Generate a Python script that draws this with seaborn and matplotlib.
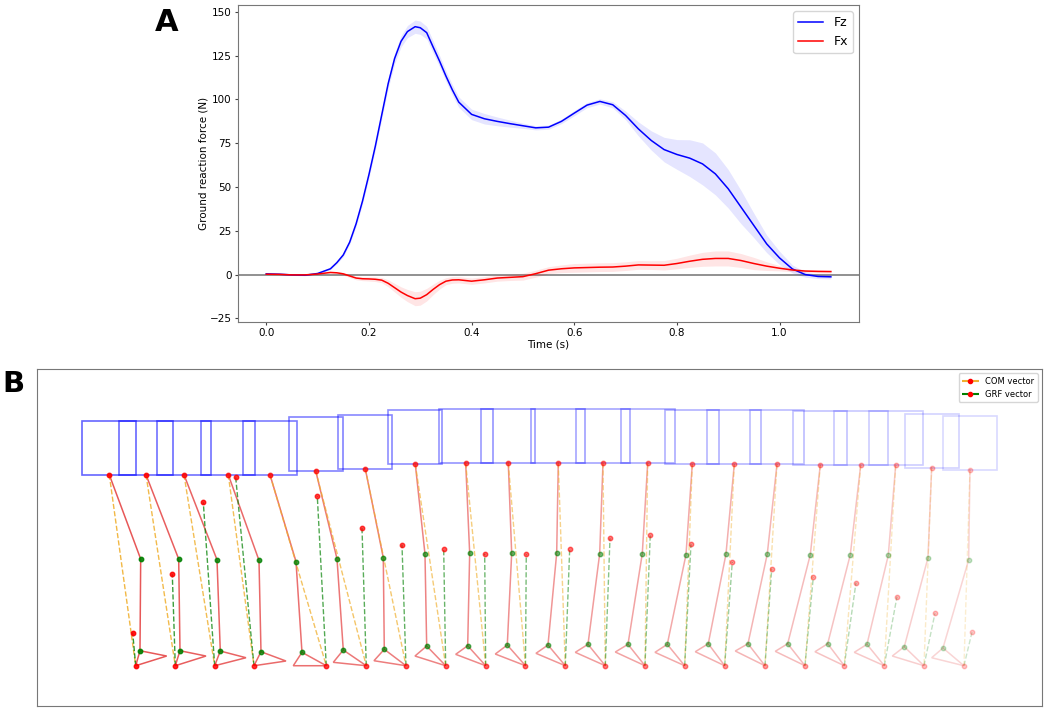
import numpy as np
import pandas as pd
import seaborn as sns
import matplotlib
matplotlib.use("Agg")
import matplotlib.pyplot as plt
from matplotlib.patches import Rectangle, Polygon
from matplotlib.lines import Line2D

# ---- panel A: mean ground reaction force and spread ----
time_s = [0.0, 0.025, 0.05, 0.075, 0.1, 0.125, 0.1375, 0.15, 0.1625, 0.175, 0.1875, 0.2,
          0.2125, 0.225, 0.2375, 0.25, 0.2625, 0.275, 0.29, 0.3, 0.3125, 0.325, 0.3375,
          0.35, 0.3625, 0.375, 0.4, 0.425, 0.45, 0.475, 0.5, 0.525, 0.55,
          0.575, 0.6, 0.625, 0.65, 0.675, 0.7, 0.725, 0.75, 0.775, 0.8, 0.825, 0.85,
          0.875, 0.9, 0.925, 0.95, 0.975, 1.0, 1.025, 1.05, 1.075, 1.1]
fz_mean = [0.4, 0.2, -0.2, -0.4, 0.6, 3.3, 6.8, 11.2, 18.5, 29.0, 42.0, 57.1,
           73.4, 91.3, 109.1, 123.4, 133.2, 138.8, 141.6, 141.0, 138.2, 130.0, 122.0,
           113.4, 105.5, 98.5, 91.5, 89.0, 87.5, 86.2, 85.0, 83.8, 84.2,
           87.5, 92.2, 96.8, 98.9, 97.0, 90.9, 83.2, 76.6, 71.4, 68.6, 66.5, 63.2,
           57.5, 49.0, 38.5, 28.0, 17.5, 9.5, 3.2, 0.0, -1.1, -1.3]
fz_sd = [0.3, 0.3, 0.3, 0.3, 0.3, 0.5, 0.7, 1.0, 1.2, 1.5, 1.8, 2.0,
         2.2, 2.5, 2.8, 3.0, 3.2, 3.5, 3.8, 3.8, 3.6, 3.5, 3.2,
         3.0, 3.0, 3.0, 3.0, 3.0, 2.5, 2.0, 1.5, 1.2, 1.2,
         1.3, 1.5, 1.5, 1.5, 1.8, 2.5, 4.0, 5.5, 7.0, 8.5, 10.5, 12.0,
         12.0, 11.0, 9.5, 7.0, 5.0, 3.8, 2.3, 1.5, 1.2, 1.2]
fx_mean = [0.2, 0.1, -0.2, -0.2, 0.3, 1.2, 1.0, 0.4, -0.8, -2.0, -2.4, -2.5,
           -2.7, -3.2, -5.0, -7.5, -10.0, -12.0, -13.8, -13.5, -11.5, -8.5, -5.8,
           -3.8, -3.1, -3.0, -3.8, -3.0, -2.0, -1.6, -1.2, 0.5, 2.5,
           3.3, 3.8, 4.0, 4.2, 4.3, 4.8, 5.5, 5.4, 5.3, 6.3, 7.6, 8.7,
           9.2, 9.2, 8.0, 6.3, 4.8, 3.6, 2.6, 2.0, 1.8, 1.7]
fx_sd = [0.3, 0.3, 0.3, 0.3, 0.3, 0.5, 0.6, 0.8, 0.9, 1.0, 1.1, 1.2,
         1.3, 1.5, 2.0, 2.5, 3.0, 3.5, 4.0, 4.0, 3.6, 3.0, 2.5,
         2.0, 1.9, 1.8, 1.8, 1.8, 1.8, 1.8, 2.0, 2.0, 2.0,
         2.2, 2.5, 2.5, 2.5, 2.5, 2.5, 2.5, 2.5, 2.7, 3.0, 3.5, 4.0,
         4.3, 4.3, 4.0, 3.5, 2.5, 1.5, 1.0, 0.8, 0.8, 0.8]

# ---- panel B: stick figure frames (image units, y grows downward) ----
hip_x = [109.3, 146.0, 184.0, 228.3, 270.0, 315.7, 365.3, 415.3, 465.7, 508.3, 558.3,
         603.0, 647.7, 692.3, 734.3, 777.0, 820.3, 860.7, 895.7, 931.7, 970.0]
hip_y = [474.7, 474.7, 474.7, 474.7, 474.7, 470.7, 468.7, 464.0, 463.0, 463.0, 463.0,
         463.0, 463.3, 464.3, 464.3, 464.3, 465.0, 465.3, 465.3, 467.7, 469.7]
knee_x = [140.7, 178.7, 217.0, 259.0, 296.0, 337.0, 383.3, 425.0, 469.7, 511.7, 556.7,
          599.7, 642.3, 686.0, 726.0, 767.3, 810.3, 850.3, 888.3, 928.0, 968.7]
knee_y = [559.0, 559.0, 559.7, 560.3, 561.5, 558.7, 557.7, 554.0, 553.3, 553.3, 553.3,
          553.7, 553.7, 554.7, 554.0, 554.0, 554.7, 554.7, 555.3, 557.7, 559.7]
ankle_x = [140.0, 180.0, 220.3, 261.0, 302.0, 343.3, 384.3, 426.7, 467.7, 507.3, 548.0,
           588.0, 628.0, 667.3, 708.3, 748.0, 787.7, 827.7, 867.0, 904.3, 943.0]
ankle_y = [650.7, 650.7, 651.0, 651.7, 652.3, 650.0, 649.3, 646.0, 645.7, 645.0, 645.0,
           644.3, 644.3, 644.3, 643.7, 643.7, 643.7, 643.7, 644.3, 646.7, 648.0]
foot_x = [166.7, 206.0, 246.0, 286.0, 293.3, 333.3, 374.0, 415.0, 455.7, 495.3, 536.0,
          575.3, 615.3, 655.0, 695.3, 735.3, 775.3, 815.0, 854.3, 892.3, 931.7]
foot_y = [656.0, 656.0, 657.7, 661.0, 665.7, 662.3, 660.7, 656.0, 654.3, 654.0, 653.3,
          652.3, 652.0, 652.3, 651.7, 651.0, 651.3, 651.7, 652.3, 656.0, 657.7]
cop_x = [135.7, 175.3, 214.7, 254.0, 326.3, 366.3, 406.0, 445.7, 485.7, 525.5, 565.3,
         605.3, 645.0, 684.7, 724.7, 765.0, 805.0, 844.3, 884.3, 924.0, 964.0]
cop_y = [665.7, 665.7, 665.7, 665.7, 665.7, 665.7, 665.7, 665.7, 665.7, 665.7, 665.7,
         665.7, 665.7, 665.7, 665.7, 665.7, 665.7, 665.7, 665.7, 665.7, 665.7]
grf_x = [132.7, 172.3, 203.3, 235.7, 317.3, 362.0, 402.0, 443.7, 484.7, 526.3, 569.7,
         610.0, 650.3, 691.0, 732.3, 771.7, 813.3, 856.0, 897.0, 935.0, 972.0]
grf_y = [632.7, 574.3, 502.3, 477.3, 496.0, 528.0, 544.7, 549.3, 553.7, 554.3, 549.3,
         538.3, 535.0, 544.3, 562.0, 569.3, 577.3, 582.7, 596.7, 613.3, 632.3]
BODY_W = 54
BODY_H = 54

COM_COLOR = "#f0b030"

fig = plt.figure(figsize=(10.45, 7.1), dpi=100)
ax_a = fig.add_axes([0.2278, 0.5465, 0.5943, 0.4465])
ax_b = fig.add_axes([0.0354, 0.0056, 0.9617, 0.4746])

# panel A
df = pd.DataFrame({"time": time_s, "Fz": fz_mean, "Fx": fx_mean})
fz_lo = np.array(fz_mean) - np.array(fz_sd)
fz_hi = np.array(fz_mean) + np.array(fz_sd)
fx_lo = np.array(fx_mean) - np.array(fx_sd)
fx_hi = np.array(fx_mean) + np.array(fx_sd)

ax_a.axhline(0, color="#888888", lw=1.3, zorder=1)
ax_a.fill_between(time_s, fz_lo, fz_hi, color="blue", alpha=0.1, lw=0, zorder=2)
sns.lineplot(data=df, x="time", y="Fz", color="blue", lw=1.1, ax=ax_a, zorder=3)
ax_a.fill_between(time_s, fx_lo, fx_hi, color="red", alpha=0.1, lw=0, zorder=2)
sns.lineplot(data=df, x="time", y="Fx", color="red", lw=1.1, ax=ax_a, zorder=3)

ax_a.set_ylim(-27.1, 154)
ax_a.set_yticks([-25, 0, 25, 50, 75, 100, 125, 150])
ax_a.set_xticks([0.0, 0.2, 0.4, 0.6, 0.8, 1.0])
ax_a.tick_params(labelsize=7.5, length=2.5, pad=2, color="#444444")
ax_a.set_xlabel("Time (s)", fontsize=7.5, labelpad=1)
ax_a.set_ylabel("Ground reaction force (N)", fontsize=7.5, labelpad=1)
for sp in ax_a.spines.values():
    sp.set_color("#777777")
ax_a.legend([ax_a.lines[1], ax_a.lines[2]], ["Fz", "Fx"], loc="upper right", fontsize=9)

# panel B
n_frames = len(hip_x)
alphas = np.linspace(1.0, 0.25, n_frames)
for i in range(n_frames):
    a = alphas[i]
    ax_b.add_patch(Rectangle((hip_x[i] - BODY_W / 2, hip_y[i] - BODY_H), BODY_W, BODY_H,
                             fill=False, ec="blue", lw=1.2, alpha=0.6 * a))
    ax_b.plot([hip_x[i], knee_x[i], ankle_x[i]], [hip_y[i], knee_y[i], ankle_y[i]],
              color="#e02020", lw=1.1, alpha=0.75 * a)
    ax_b.add_patch(Polygon([[ankle_x[i], ankle_y[i]], [foot_x[i], foot_y[i]], [cop_x[i], cop_y[i]]],
                           closed=True, fill=False, ec="#e02020", lw=1.1, alpha=0.75 * a))
    ax_b.plot([hip_x[i], cop_x[i]], [hip_y[i], cop_y[i]], ls="--", color=COM_COLOR,
              lw=1.0, alpha=0.9 * a)
    ax_b.plot([cop_x[i], grf_x[i]], [cop_y[i], grf_y[i]], ls="--", color="green",
              lw=1.0, alpha=0.8 * a)
    ax_b.plot([knee_x[i], ankle_x[i]], [knee_y[i], ankle_y[i]], ls="", marker="o",
              ms=3.2, color="green", alpha=0.9 * a)
    ax_b.plot([hip_x[i], cop_x[i], grf_x[i]], [hip_y[i], cop_y[i], grf_y[i]], ls="",
              marker="o", ms=3.2, color="red", alpha=0.9 * a)

ax_b.set_xlim(37, 1042)
ax_b.set_ylim(706, 369)
ax_b.set_xticks([])
ax_b.set_yticks([])
for sp in ax_b.spines.values():
    sp.set_color("#777777")
legend_handles = [
    Line2D([0], [0], ls="--", color=COM_COLOR, marker="o", mfc="red", mec="red", ms=3),
    Line2D([0], [0], ls="--", color="green", marker="o", mfc="red", mec="red", ms=3),
]
ax_b.legend(legend_handles, ["COM vector", "GRF vector"], loc="upper right", fontsize=6)

fig.text(155 / 1045, 1 - 31 / 710, "A", fontsize=22, fontweight="bold")
fig.text(2 / 1045, 1 - 392 / 710, "B", fontsize=21, fontweight="bold")

fig.savefig("out.png", dpi=100)
